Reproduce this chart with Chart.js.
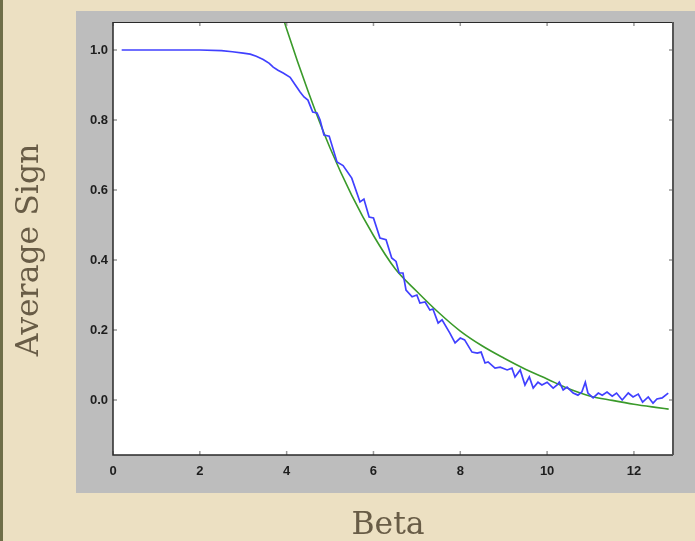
<!DOCTYPE html>
<html>
<head>
<meta charset="utf-8">
<script src="https://cdn.jsdelivr.net/npm/chart.js@4/dist/chart.umd.min.js"></script>
<style>
  html, body {
    margin: 0;
    padding: 0;
  }
  body {
    width: 695px;
    height: 541px;
    overflow: hidden;
    background: #ece0c2;
    position: relative;
  }
  #edge {
    position: absolute;
    left: 0;
    top: 0;
    width: 3px;
    height: 541px;
    background: #6f6e48;
  }
  #chart {
    position: absolute;
    left: 0;
    top: 0;
  }
</style>
</head>
<body>
<div id="edge"></div>
<canvas id="chart" width="695" height="541"></canvas>
<script>
let betaData = [0.2, 1.0, 2.0, 2.5, 2.75, 3.0, 3.16, 3.3, 3.46, 3.6, 3.69, 3.8, 3.92, 4.08, 4.2, 4.31, 4.4, 4.49,
  4.6, 4.7, 4.77, 4.86, 4.98, 5.16, 5.3, 5.5, 5.69, 5.78, 5.9, 6.0, 6.15, 6.29, 6.42, 6.52, 6.59, 6.68, 6.75,
  6.89, 7.0, 7.07, 7.19, 7.3, 7.37, 7.49, 7.58, 7.76, 7.88, 8.0, 8.1, 8.27, 8.39, 8.48, 8.57, 8.64, 8.8, 8.92,
  9.08, 9.19, 9.26, 9.38, 9.49, 9.59, 9.68, 9.79, 9.88, 10.0, 10.14, 10.23, 10.28, 10.37, 10.46, 10.6, 10.71,
  10.8, 10.88, 10.94, 11.06, 11.18, 11.27, 11.38, 11.5, 11.6, 11.73, 11.87, 11.98, 12.1, 12.2, 12.33, 12.44,
  12.53, 12.65, 12.79];
let signData = [1.0, 1.0, 1.0, 0.998, 0.995, 0.991, 0.988, 0.982, 0.973, 0.962, 0.951, 0.942, 0.934, 0.922, 0.9,
  0.88, 0.866, 0.857, 0.823, 0.82, 0.8, 0.757, 0.754, 0.68, 0.67, 0.634, 0.566, 0.574, 0.523, 0.52, 0.463,
  0.458, 0.406, 0.396, 0.363, 0.363, 0.314, 0.295, 0.3, 0.277, 0.28, 0.257, 0.26, 0.22, 0.229, 0.191, 0.163,
  0.177, 0.172, 0.137, 0.134, 0.137, 0.106, 0.109, 0.091, 0.094, 0.086, 0.091, 0.066, 0.086, 0.043, 0.066,
  0.034, 0.051, 0.043, 0.051, 0.034, 0.043, 0.051, 0.029, 0.037, 0.02, 0.014, 0.023, 0.051, 0.02, 0.006,
  0.02, 0.014, 0.023, 0.011, 0.02, 0.0, 0.02, 0.009, 0.017, -0.006, 0.009, -0.009, 0.003, 0.006, 0.02];

// fitted curve (green)
let betaFit = [3.9, 4.0, 4.5, 5.0, 5.5, 6.0, 6.5, 7.0, 7.5, 8.0, 8.5, 9.0, 9.5, 10.0, 10.5, 11.0, 11.5, 12.0, 12.5, 12.8];
let signFit = [1.1, 1.06, 0.88, 0.72, 0.585, 0.47, 0.375, 0.31, 0.25, 0.197, 0.155, 0.12, 0.088, 0.06, 0.032,
  0.011, -0.001, -0.012, -0.021, -0.026];

let xTicks = [0, 2, 4, 6, 8, 10, 12];
let yTicks = [0.0, 0.2, 0.4, 0.6, 0.8, 1.0];

let xTitle = "Beta";
let yTitle = "Average Sign";

function toPoints(xs, ys) {
  return xs.map((x, i) => ({ x: x, y: ys[i] }));
}

const titleFont = "31.5px 'DejaVu Serif', serif";
const titleColor = "#685c46";

// grey frame + white plot box, then the box border, inward ticks and axis titles
const framePlugin = {
  id: "frame",
  beforeDraw(chart) {
    const ctx = chart.ctx;
    const a = chart.chartArea;
    ctx.save();
    ctx.fillStyle = "#bdbdbd";
    ctx.fillRect(76, 11, 619, 482);
    ctx.fillStyle = "#ffffff";
    ctx.fillRect(a.left, a.top, a.right - a.left, a.bottom - a.top);
    ctx.restore();
  },
  afterDatasetsDraw(chart) {
    const ctx = chart.ctx;
    const a = chart.chartArea;
    const xs = chart.scales.x;
    const ys = chart.scales.y;
    ctx.save();
    ctx.strokeStyle = "#9a9a9a";
    ctx.lineWidth = 1.5;
    ctx.beginPath();
    xTicks.forEach((v) => {
      const px = xs.getPixelForValue(v);
      ctx.moveTo(px, a.bottom);
      ctx.lineTo(px, a.bottom - 4);
      ctx.moveTo(px, a.top);
      ctx.lineTo(px, a.top + 4);
    });
    yTicks.forEach((v) => {
      const py = ys.getPixelForValue(v);
      ctx.moveTo(a.left, py);
      ctx.lineTo(a.left + 4, py);
      ctx.moveTo(a.right, py);
      ctx.lineTo(a.right - 4, py);
    });
    ctx.stroke();

    ctx.strokeStyle = "#2a2a2a";
    ctx.lineWidth = 1.5;
    ctx.beginPath();
    ctx.moveTo(a.left, a.top);
    ctx.lineTo(a.left, a.bottom);
    ctx.lineTo(a.right, a.bottom);
    ctx.stroke();
    ctx.lineWidth = 1;
    ctx.beginPath();
    ctx.moveTo(a.left, a.top + 0.5);
    ctx.lineTo(a.right, a.top + 0.5);
    ctx.stroke();
    ctx.strokeStyle = "#555555";
    ctx.lineWidth = 2;
    ctx.beginPath();
    ctx.moveTo(a.right, a.top);
    ctx.lineTo(a.right, a.bottom);
    ctx.stroke();
    ctx.restore();
  },
  afterDraw(chart) {
    const ctx = chart.ctx;
    ctx.save();
    ctx.font = titleFont;
    ctx.fillStyle = titleColor;
    ctx.textAlign = "center";
    ctx.textBaseline = "alphabetic";
    ctx.fillText(xTitle, 388, 534);
    ctx.translate(38, 250);
    ctx.rotate(-Math.PI / 2);
    ctx.fillText(yTitle, 0, 0);
    ctx.restore();
  },
};

const tickFont = { family: "'Liberation Sans', Arial, sans-serif", size: 13, weight: "bold" };

var signChart = new Chart(document.getElementById("chart"), {
  type: "line",
  data: {
    datasets: [
      {
        data: toPoints(betaData, signData),
        borderColor: "#4040ff",
        borderWidth: 1.7,
        pointRadius: 0,
        tension: 0,
      },
      {
        data: toPoints(betaFit, signFit),
        borderColor: "#3a9a2a",
        borderWidth: 1.6,
        pointRadius: 0,
        cubicInterpolationMode: "monotone",
      },
    ],
  },
  options: {
    responsive: false,
    animation: false,
    layout: { padding: { top: 22, right: 22, left: 0, bottom: 0 } },
    plugins: {
      legend: { display: false },
      tooltip: { enabled: false },
    },
    scales: {
      x: {
        type: "linear",
        min: 0,
        max: 12.9,
        grid: { display: false, drawTicks: false },
        border: { display: false },
        afterBuildTicks: (scale) => {
          scale.ticks = xTicks.map((v) => ({ value: v }));
        },
        afterFit: (scale) => {
          scale.height = 86;
        },
        ticks: {
          autoSkip: false,
          maxRotation: 0,
          color: "#1e1e1e",
          font: tickFont,
          padding: 9,
          callback: (v) => String(v),
        },
      },
      y: {
        min: -0.157,
        max: 1.08,
        grid: { display: false, drawTicks: false },
        border: { display: false },
        afterBuildTicks: (scale) => {
          scale.ticks = yTicks.map((v) => ({ value: v }));
        },
        afterFit: (scale) => {
          scale.width = 113;
        },
        ticks: {
          color: "#1e1e1e",
          font: tickFont,
          padding: 5,
          callback: (v) => v.toFixed(1),
        },
      },
    },
  },
  plugins: [framePlugin],
});
</script>
</body>
</html>
